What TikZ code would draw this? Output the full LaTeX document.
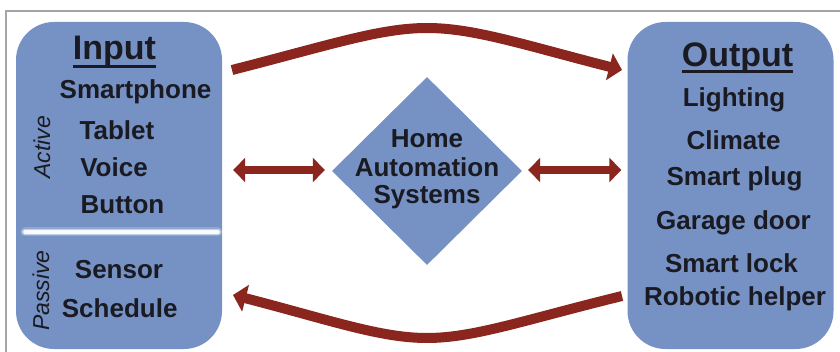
\documentclass[tikz,border=0pt]{standalone}
\usepackage{fontspec}
\setmainfont{Liberation Sans}
\usetikzlibrary{arrows.meta,shapes.geometric}

\definecolor{panelblue}{RGB}{118,145,195}
\definecolor{arrowred}{RGB}{138,38,30}
\definecolor{textdark}{RGB}{26,26,34}
\definecolor{framegrey}{RGB}{165,165,165}

\begin{document}
\begin{tikzpicture}[x=1pt,y=-1pt,
  panel/.style={fill=panelblue, rounded corners=38pt, minimum width=206pt, minimum height=327pt, inner sep=0pt},
  title/.style={font=\bfseries\fontsize{34}{36}\selectfont, text=textdark, inner sep=0pt, anchor=base},
  item/.style={font=\bfseries\fontsize{26}{28}\selectfont, text=textdark, inner sep=0pt, anchor=base},
  group/.style={font=\itshape\fontsize{23}{25}\selectfont, text=textdark, inner sep=0pt, rotate=90},
  flow/.style={draw=arrowred, line width=10pt, -{Triangle[length=13pt,width=27pt]}},
  link/.style={draw=arrowred, line width=8pt, {Triangle[length=12pt,width=24pt]}-{Triangle[length=12pt,width=24pt]}},
  hubshape/.style={diamond, fill=panelblue, minimum width=190pt, minimum height=188pt, inner sep=0pt},
  underbar/.style={draw=textdark, line width=3pt}
]
\useasboundingbox (0,0) rectangle (840,352);

% frame
\draw[framegrey, line width=1.5pt] (6,352) -- (6,11) -- (840,11);

% side panels
\node[panel] (inpanel) at (119,185.5) {};
\node[panel] (outpanel) at (730.5,185.5) {};

% soft divider between active and passive inputs
\foreach \w/\o in {9/0.2, 6/0.45, 3.5/0.9}
  \draw[white, opacity=\o, line width=\w pt, line cap=round] (25,232) -- (218,232);

% input panel
\node[title] (intitle) at (114.5,59.3) {Input};
\draw[underbar] ([yshift=-7.5pt]intitle.base west) -- ([yshift=-7.5pt]intitle.base east);
\foreach \t/\x/\y [count=\i] in {Smartphone/135.5/99, Tablet/117/140, Voice/114/177,
    Button/122.5/213.5, Sensor/119/278.5, Schedule/119.7/317.3}
  \node[item] (in\i) at (\x,\y) {\t};
\node[group] (active) at (42,147.5) {Active};
\node[group] (passive) at (41,290.5) {Passive};

% output panel
\node[title] (outtitle) at (737.5,66.5) {Output};
\draw[underbar] ([yshift=-5pt]outtitle.base west) -- ([yshift=-5pt]outtitle.base east);
\foreach \t/\x/\y [count=\i] in {Lighting/734/106.7, Climate/733.5/150, Smart plug/734.5/186,
    Garage door/733.5/229.3, Smart lock/731.5/272.7, Robotic helper/735/306}
  \node[item] (out\i) at (\x,\y) {\t};

% central hub
\node[hubshape] (hub) at (427,171) {};
\node[item] (hub1) at (427,148) {Home};
\node[item] (hub2) at (427,176.7) {Automation};
\node[item] (hub3) at (427,203.7) {Systems};

% two-way links to the hub
\draw[link, shorten <=11pt, shorten >=7pt] (inpanel.east |- 0,170) -- (hub.west |- 0,170);
\draw[link, shorten <=6pt, shorten >=6pt] (hub.east |- 0,170) -- (outpanel.west |- 0,170);

% overall flow arcs
\coordinate (topA) at (232,70);
\coordinate (topB) at (622,70);
\coordinate (botA) at (622,296);
\coordinate (botB) at (233,295);
\draw[flow] (topA) .. controls (330,45) and (380,28) .. (427,28)
                   .. controls (474,28) and (524,45) .. (topB);
\draw[flow] (botA) .. controls (524,320) and (474,338) .. (427,338)
                   .. controls (380,338) and (330,320) .. (botB);
\end{tikzpicture}
\end{document}
